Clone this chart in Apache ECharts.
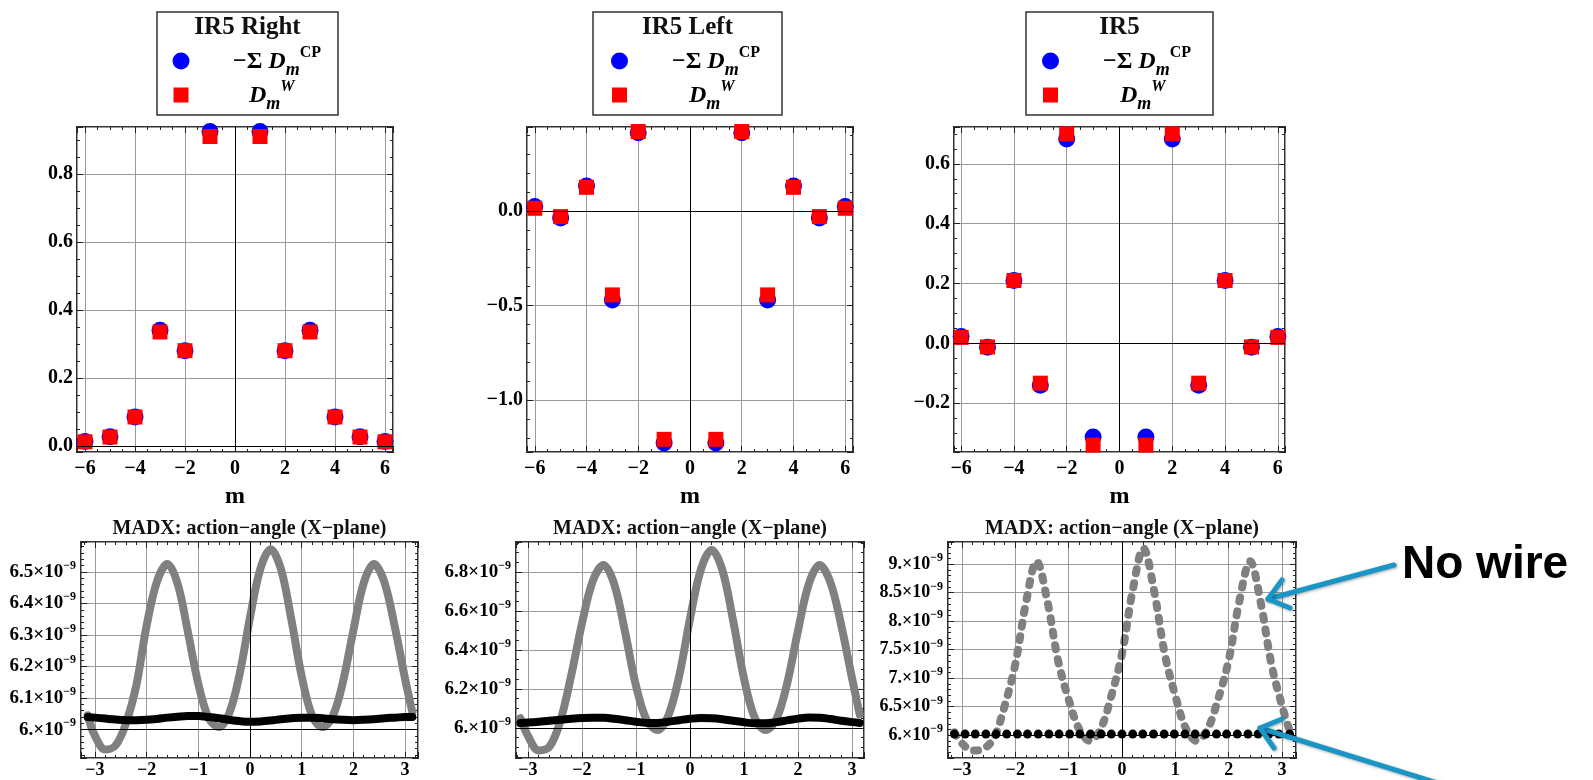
<!DOCTYPE html>
<html><head><meta charset="utf-8">
<script src="https://cdn.jsdelivr.net/npm/echarts@6/dist/echarts.min.js"></script>
<style>html,body{margin:0;padding:0;background:#fff}#c{width:1593px;height:780px}</style>
</head><body><div id="c"></div>
<script>
// ---------- data ----------
const mValues = [-6, -5, -4, -3, -2, -1, 1, 2, 3, 4, 5, 6];
const rightCP = [0.013, 0.027, 0.085, 0.340, 0.280, 0.925, 0.925, 0.280, 0.340, 0.085, 0.027, 0.013];
const rightW  = [0.012, 0.026, 0.085, 0.335, 0.280, 0.910, 0.910, 0.280, 0.335, 0.085, 0.026, 0.012];
const leftCP  = [0.023, -0.037, 0.132, -0.471, 0.414, -1.228, -1.228, 0.414, -0.471, 0.132, -0.037, 0.023];
const leftW   = [0.014, -0.030, 0.125, -0.444, 0.420, -1.208, -1.208, 0.420, -0.444, 0.125, -0.030, 0.014];
const ir5CP   = [0.023, -0.013, 0.210, -0.140, 0.683, -0.313, -0.313, 0.683, -0.140, 0.210, -0.013, 0.023];
const ir5W    = [0.020, -0.012, 0.210, -0.133, 0.700, -0.340, -0.340, 0.700, -0.133, 0.210, -0.012, 0.020];

// angle samples (rad) and action values in units of 1e-9
const phi = [-3.14, -3.0, -2.8, -2.6, -2.4, -2.2, -2.0, -1.8, -1.6, -1.4, -1.2, -1.0, -0.8, -0.6, -0.4, -0.2, 0, 0.2, 0.4, 0.6, 0.8, 1.0, 1.2, 1.4, 1.6, 1.8, 2.0, 2.2, 2.4, 2.6, 2.8, 3.0, 3.14];
const rightNoWire = [6.045, 5.98, 5.937, 5.95, 6.02, 6.14, 6.33, 6.47, 6.525, 6.462, 6.308, 6.145, 6.037, 6.008, 6.053, 6.177, 6.356, 6.51, 6.572, 6.508, 6.349, 6.169, 6.045, 6.008, 6.042, 6.153, 6.315, 6.465, 6.525, 6.467, 6.327, 6.161, 6.056];
const rightWire   = [6.04, 6.038, 6.035, 6.032, 6.03, 6.03, 6.031, 6.034, 6.038, 6.041, 6.043, 6.043, 6.04, 6.036, 6.031, 6.027, 6.025, 6.026, 6.029, 6.033, 6.036, 6.038, 6.038, 6.036, 6.033, 6.031, 6.03, 6.031, 6.033, 6.036, 6.038, 6.04, 6.04];
const leftNoWire  = [6.05, 5.96, 5.885, 5.904, 6.035, 6.267, 6.535, 6.753, 6.836, 6.736, 6.49, 6.218, 6.039, 5.99, 6.064, 6.267, 6.56, 6.812, 6.913, 6.809, 6.548, 6.253, 6.051, 5.99, 6.046, 6.231, 6.501, 6.74, 6.836, 6.745, 6.525, 6.253, 6.07];
const leftWire    = [6.025, 6.028, 6.032, 6.037, 6.042, 6.047, 6.051, 6.053, 6.052, 6.047, 6.04, 6.032, 6.026, 6.026, 6.032, 6.04, 6.047, 6.051, 6.05, 6.045, 6.037, 6.029, 6.024, 6.024, 6.03, 6.039, 6.048, 6.054, 6.053, 6.046, 6.037, 6.03, 6.026];
const ir5NoWire   = [6.05, 5.86, 5.73, 5.76, 5.95, 6.51, 7.24, 8.32, 9.05, 8.36, 7.32, 6.63, 6.1, 5.9, 6.11, 6.69, 7.43, 8.54, 9.28, 8.54, 7.43, 6.69, 6.11, 5.9, 6.1, 6.63, 7.32, 8.36, 9.05, 8.32, 7.24, 6.51, 6.08];
const phiDots     = [-3.14, -2.94, -2.75, -2.55, -2.36, -2.16, -1.96, -1.77, -1.57, -1.37, -1.18, -0.98, -0.79, -0.59, -0.39, -0.20, 0.00, 0.20, 0.39, 0.59, 0.79, 0.98, 1.18, 1.37, 1.57, 1.77, 1.96, 2.16, 2.36, 2.55, 2.75, 2.94, 3.14];
const ir5Wire     = [6.02, 6.02, 6.02, 6.02, 6.02, 6.02, 6.02, 6.02, 6.02, 6.02, 6.02, 6.02, 6.02, 6.02, 6.02, 6.02, 6.02, 6.02, 6.02, 6.02, 6.02, 6.02, 6.02, 6.02, 6.02, 6.02, 6.02, 6.02, 6.02, 6.02, 6.02, 6.02, 6.02];

const legendTitles = ['IR5 Right', 'IR5 Left', 'IR5'];
const bottomTitle = 'MADX: action\u2212angle (X\u2212plane)';
const xName = 'm';
const noteText = 'No wire';

// ---------- helpers ----------
const SERIF = '"Liberation Serif","Times New Roman",serif';
const SANS = '"Liberation Sans",Arial,sans-serif';
const pairs = (xs, ys) => xs.map((x, i) => [x, ys[i]]);
const fmtInt = v => { const r = Math.round(v); return r < 0 ? '\u2212' + (-r) : String(r); };
const fmt1 = v => { const s = (Math.round(v * 10) / 10).toFixed(1); return s.replace('-', '\u2212'); };
const fmtSci = v => { let s = (Math.round(v * 10) / 10).toFixed(1); if (s.endsWith('.0')) s = s.slice(0, -1); return '{m|' + s + '\u00d710}{e|\u22129}'; };

const grids = [], xAxes = [], yAxes = [], series = [];
const TICK = '#222';

function addPanel(cfg) {
  const g = grids.length;
  grids.push({ left: cfg.left, top: cfg.top, width: cfg.width, height: cfg.height, show: true,
    borderColor: '#333', borderWidth: 2, backgroundColor: 'transparent', containLabel: false, outerBoundsMode: 'none' });
  const tick = { show: true, inside: true, length: 6, lineStyle: { color: TICK, width: 1 } };
  const xBase = { type: 'value', gridIndex: g, min: cfg.xMin, max: cfg.xMax, splitNumber: cfg.xSplit,
    axisLine: { show: false, onZero: false }, axisTick: tick,
    minorTick: { show: true, splitNumber: cfg.xMinor, length: 3, lineStyle: { color: TICK, width: 1 } } };
  xAxes.push(Object.assign({}, xBase, { position: 'bottom',
    axisLabel: { show: true, showMinLabel: false, showMaxLabel: false, color: '#000', fontFamily: SERIF,
      fontWeight: 'bold', fontSize: cfg.xFont, margin: cfg.xMargin, formatter: fmtInt },
    splitLine: { show: true, lineStyle: { color: '#9a9a9a', width: 1 } },
    name: cfg.xName || '', nameLocation: 'middle', nameGap: cfg.nameGap || 0,
    nameTextStyle: { fontFamily: SERIF, fontWeight: 'bold', fontSize: 24, color: '#000' } }));
  xAxes.push(Object.assign({}, xBase, { position: 'top', axisLabel: { show: false }, splitLine: { show: false } }));
  const yBase = { type: 'value', gridIndex: g, min: cfg.yMin, max: cfg.yMax, splitNumber: cfg.ySplit,
    axisLine: { show: false, onZero: false }, axisTick: tick,
    minorTick: { show: true, splitNumber: cfg.yMinor, length: 3, lineStyle: { color: TICK, width: 1 } } };
  yAxes.push(Object.assign({}, yBase, { position: 'left',
    axisLabel: { show: true, showMinLabel: false, showMaxLabel: false, color: '#000', fontFamily: SERIF,
      fontWeight: 'bold', fontSize: cfg.yFont, margin: cfg.yMargin, formatter: cfg.yFmt, rich: cfg.yRich },
    splitLine: { show: true, lineStyle: { color: '#9a9a9a', width: 1 } } }));
  yAxes.push(Object.assign({}, yBase, { position: 'right', axisLabel: { show: false }, splitLine: { show: false } }));
  // reference (axis) lines
  series.push({ type: 'line', xAxisIndex: 2 * g, yAxisIndex: 2 * g, data: [], z: 1, silent: true,
    markLine: { silent: true, symbol: ['none', 'none'], label: { show: false }, animation: false,
      lineStyle: { color: '#000', width: 1, type: 'solid' },
      data: [{ xAxis: 0 }, { yAxis: cfg.yOrigin }] } });
  return g;
}

function topPanel(left, width, xMin, xMax, yMin, yMax, ySplit, yMinor, cp, w) {
  const g = addPanel({ left, top: 127, width, height: 325, xMin, xMax, xSplit: 6, xMinor: 4, xFont: 20, xMargin: 7,
    xName, nameGap: 33, yMin, yMax, ySplit, yMinor, yFont: 20, yMargin: 4, yFmt: fmt1, yOrigin: 0 });
  series.push({ type: 'scatter', xAxisIndex: 2 * g, yAxisIndex: 2 * g, z: 3, symbol: 'circle', symbolSize: 17,
    itemStyle: { color: '#0000ff', opacity: 1 }, data: pairs(mValues, cp) });
  series.push({ type: 'scatter', xAxisIndex: 2 * g, yAxisIndex: 2 * g, z: 4, symbol: 'rect', symbolSize: 15,
    itemStyle: { color: '#ff0000', opacity: 1 }, data: pairs(mValues, w) });
}

const sciRich = (fs, es) => ({ m: { fontFamily: SERIF, fontWeight: 'bold', fontSize: fs, color: '#000', lineHeight: fs + 6 },
  e: { fontFamily: SERIF, fontWeight: 'bold', fontSize: es, color: '#000', verticalAlign: 'top', lineHeight: es + 1 } });

function bottomPanel(left, width, xMin, xMax, yMin, yMax, ySplit, yMinor, fs, es) {
  return addPanel({ left, top: 542, width, height: 216, xMin, xMax, xSplit: 6, xMinor: 5, xFont: 18, xMargin: 3,
    yMin, yMax, ySplit, yMinor, yFont: fs, yMargin: 5, yFmt: fmtSci, yRich: sciRich(fs, es), yOrigin: 6 });
}

// ---------- top panels ----------
topPanel(77, 316, -6.32, 6.32, -0.018, 0.938, 5, 4, rightCP, rightW);
topPanel(527, 326, -6.3, 6.3, -1.275, 0.444, 3, 5, leftCP, leftW);
topPanel(954, 331, -6.27, 6.27, -0.363, 0.723, 5, 4, ir5CP, ir5W);

// ---------- bottom panels ----------
const lineGrey = (g, ys, dashed) => ({ type: 'line', xAxisIndex: 2 * g, yAxisIndex: 2 * g, z: 3, smooth: 0.35,
  showSymbol: false, data: pairs(phi, ys),
  lineStyle: { color: '#808080', width: 8, cap: 'round', join: 'round', type: dashed ? [4, 10] : 'solid' } });
const lineBlack = (g, ys) => ({ type: 'line', xAxisIndex: 2 * g, yAxisIndex: 2 * g, z: 4, smooth: 0.35,
  showSymbol: false, data: pairs(phi, ys), lineStyle: { color: '#000', width: 8, cap: 'round', join: 'round' } });

let g = bottomPanel(81, 337, -3.27, 3.25, 5.91, 6.595, 7, 5, 19, 12);
series.push(lineGrey(g, rightNoWire, false), lineBlack(g, rightWire));
g = bottomPanel(516, 348, -3.22, 3.22, 5.846, 6.954, 5, 4, 19, 12);
series.push(lineGrey(g, leftNoWire, false), lineBlack(g, leftWire));
g = bottomPanel(948, 348, -3.26, 3.26, 5.6, 9.39, 8, 5, 18, 12);
series.push(lineGrey(g, ir5NoWire, true));
series.push({ type: 'scatter', xAxisIndex: 2 * g, yAxisIndex: 2 * g, z: 4, symbol: 'circle', symbolSize: 9,
  itemStyle: { color: '#000', opacity: 1 }, data: pairs(phiDots, ir5Wire) });

// ---------- graphics: legends, titles, annotation ----------
const els = [];
const richLeg = {
  a: { fontFamily: SERIF, fontWeight: 'bold', fontSize: 24, lineHeight: 34, fill: '#000' },
  d: { fontFamily: SERIF, fontWeight: 'bold', fontStyle: 'italic', fontSize: 24, lineHeight: 34, fill: '#000' },
  s: { fontFamily: SERIF, fontWeight: 'bold', fontStyle: 'italic', fontSize: 18, lineHeight: 24, verticalAlign: 'bottom', fill: '#000' },
  p: { fontFamily: SERIF, fontWeight: 'bold', fontSize: 16, lineHeight: 18, verticalAlign: 'top', fill: '#000' },
  q: { fontFamily: SERIF, fontWeight: 'bold', fontStyle: 'italic', fontSize: 16, lineHeight: 18, verticalAlign: 'top', fill: '#000' }
};
function legend(x0, x1, title, mx, t1x, t2x) {
  els.push({ type: 'rect', shape: { x: x0, y: 12, width: x1 - x0, height: 103 }, style: { fill: '#fff', stroke: '#333', lineWidth: 1.5 }, z: 10 });
  els.push({ type: 'text', z: 11, style: { x: (x0 + x1) / 2, y: 28, text: title, align: 'center', verticalAlign: 'middle',
    fontFamily: SERIF, fontWeight: 'bold', fontSize: 25, fill: '#111' } });
  els.push({ type: 'circle', z: 11, shape: { cx: mx, cy: 61, r: 8.5 }, style: { fill: '#0000ff' } });
  els.push({ type: 'rect', z: 11, shape: { x: mx - 7.5, y: 87.5, width: 15, height: 15 }, style: { fill: '#ff0000' } });
  els.push({ type: 'text', z: 11, style: { x: t1x, y: 62, text: '{a|\u2212\u03a3 }{d|D}{s|m}{p|CP}', verticalAlign: 'middle', rich: richLeg } });
  els.push({ type: 'text', z: 11, style: { x: t2x, y: 96, text: '{d|D}{s|m}{q|W}', verticalAlign: 'middle', rich: richLeg } });
}
legend(157, 338, legendTitles[0], 181, 233, 249);
legend(593, 782, legendTitles[1], 619.5, 672, 689);
legend(1026, 1213, legendTitles[2], 1050.5, 1103, 1120);

[[81, 337, 20], [516, 348, 20], [948, 348, 20]].forEach(([l, w, fs]) => {
  els.push({ type: 'text', z: 11, style: { x: l + w / 2, y: 529, text: bottomTitle, align: 'center', verticalAlign: 'middle',
    fontFamily: SERIF, fontWeight: 'bold', fontSize: fs, fill: '#111' } });
});

els.push({ type: 'text', z: 11, style: { x: 1402, y: 565, text: noteText, verticalAlign: 'middle',
  fontFamily: SANS, fontWeight: 'bold', fontSize: 46, fill: '#000' } });
const arrowStyle = { stroke: '#1a96c6', lineWidth: 5, lineCap: 'round', lineJoin: 'round', fill: null,
  shadowBlur: 3, shadowColor: 'rgba(0,0,0,0.35)', shadowOffsetX: 1, shadowOffsetY: 1 };
function arrow(tail, tip, wing1, wing2) {
  els.push({ type: 'line', z: 12, shape: { x1: tail[0], y1: tail[1], x2: tip[0], y2: tip[1] }, style: arrowStyle });
  els.push({ type: 'polyline', z: 12, shape: { points: [wing1, tip, wing2] }, style: arrowStyle });
}
arrow([1394, 565], [1268, 599], [1282, 580], [1290, 608]);
arrow([1460, 790], [1260, 728], [1282, 719], [1274, 748]);

const chart = echarts.init(document.getElementById('c'), null, { renderer: 'canvas' });
chart.setOption({
  animation: false, backgroundColor: '#fff',
  grid: grids, xAxis: xAxes, yAxis: yAxes, series,
  graphic: { elements: els }
});
</script>
</body></html>
